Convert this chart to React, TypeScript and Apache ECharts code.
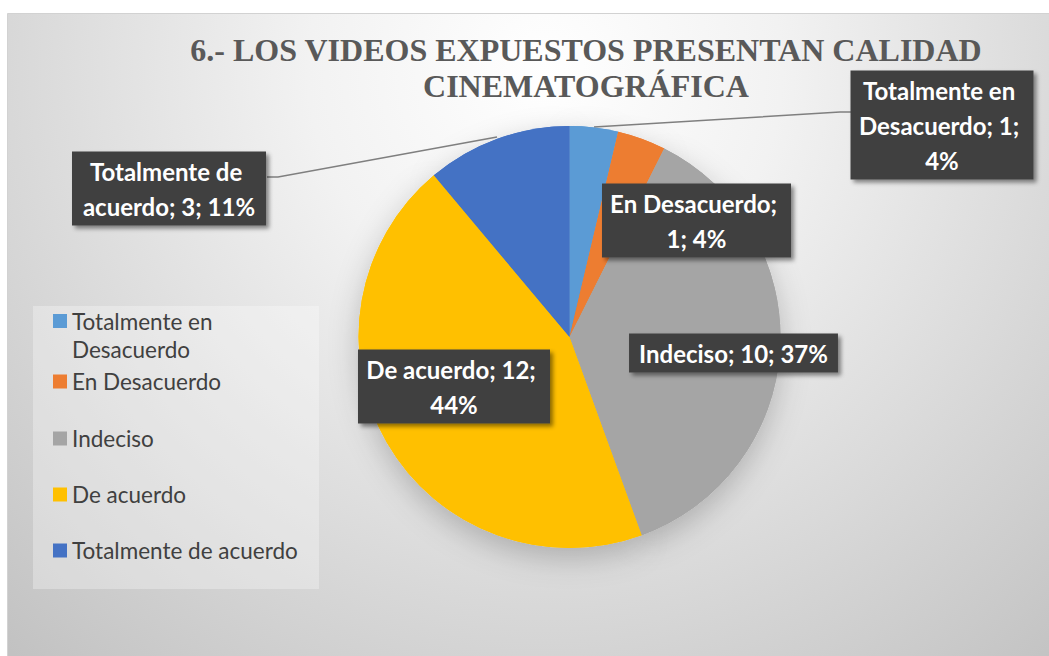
import React, { useEffect, useRef } from 'react';
import * as echarts from 'echarts';

const categories = [
  'Totalmente en Desacuerdo',
  'En Desacuerdo',
  'Indeciso',
  'De acuerdo',
  'Totalmente de acuerdo',
];
const counts = [1, 1, 10, 12, 3];
const colors = ['#5B9BD5', '#ED7D31', '#A5A5A5', '#FFC000', '#4472C4'];
const titleText = '6.- LOS VIDEOS EXPUESTOS PRESENTAN CALIDAD\nCINEMATOGRÁFICA';

export default function App() {
  const ref = useRef<HTMLDivElement>(null);
  useEffect(() => {
    document.body.style.margin = '0';
    const chart = echarts.init(ref.current!, null, { renderer: 'svg' });

    const labelCenters: number[][] = [
      [942, 125],
      [696.5, 220.5],
      [733.5, 353],
      [454, 386.5],
      [169, 188.5],
    ];
    const labelWidths: (number | null)[] = [171, 177, null, 180, 182];
    const linePoints: Record<number, number[][]> = {
      0: [[594, 127], [840, 112], [851, 112]],
      4: [[497, 137], [278, 177], [267, 177]],
    };
    const legendIconCenters = [321, 377, 434, 490, 546];

    const data = categories.map((name, i) => ({
      name,
      value: counts[i],
      itemStyle: { color: colors[i] },
      label: labelWidths[i] ? { width: labelWidths[i] } : { padding: [2, 10] },
      labelLine: { show: i === 0 || i === 4 },
    }));

    const legends = categories.map((name, i) => {
      const first = i === 0;
      return {
        data: [name],
        orient: 'vertical',
        left: 53,
        top: first ? legendIconCenters[i] - 7 - 35 : legendIconCenters[i] - 7,
        padding: 0,
        itemWidth: 14,
        itemHeight: 14,
        icon: 'rect',
        selectedMode: false,
        formatter: first ? (n: string) => '\n' + n : undefined,
        textStyle: first
          ? {
              fontFamily: 'Lato',
              fontSize: 22.5,
              color: '#404040',
              width: 205,
              overflow: 'break',
              lineHeight: 28,
            }
          : { fontFamily: 'Lato', fontSize: 22.5, color: '#404040' },
      };
    });

    chart.setOption({
      animation: false,
      backgroundColor: '#ffffff',
      title: {
        text: titleText,
        left: 586,
        top: 32,
        padding: 0,
        textAlign: 'center',
        textStyle: {
          fontFamily: 'Liberation Serif',
          fontWeight: 'bold',
          fontSize: 32,
          lineHeight: 36,
          color: '#595959',
        },
      },
      graphic: {
        elements: [
          {
            type: 'rect',
            silent: true,
            shape: { x: 7.5, y: 13.5, width: 1045, height: 650 },
            style: {
              fill: new echarts.graphic.RadialGradient(
                545,
                70,
                790,
                [
                  { offset: 0, color: '#ffffff' },
                  { offset: 0.3, color: '#f2f2f2' },
                  { offset: 1, color: '#c2c2c2' },
                ],
                true
              ),
              stroke: '#d2d2d2',
              lineWidth: 1,
            },
          },
          {
            type: 'rect',
            silent: true,
            shape: { x: 33, y: 306, width: 286, height: 283 },
            style: { fill: 'rgba(255,255,255,0.3)' },
          },
        ],
      },
      legend: legends,
      series: [
        {
          type: 'pie',
          name: 'main',
          z: 3,
          center: [569.5, 337],
          radius: 211,
          startAngle: 90,
          clockwise: true,
          percentPrecision: 0,
          avoidLabelOverlap: false,
          emphasis: { disabled: true },
          label: {
            show: true,
            position: 'outside',
            formatter: (p: any) => `${p.name}; ${p.value}; ${p.percent}%`,
            color: '#ffffff',
            fontFamily: 'Lato',
            fontWeight: 'bold',
            fontSize: 24,
            lineHeight: 35,
            backgroundColor: '#404040',
            padding: [2, 6],
            align: 'center',
            overflow: 'break',
            shadowBlur: 4,
            shadowColor: 'rgba(0,0,0,0.45)',
            shadowOffsetX: 3,
            shadowOffsetY: 3,
          },
          labelLine: {
            show: false,
            lineStyle: { color: '#7f7f7f', width: 1.5 },
          },
          labelLayout: (params: any) => {
            const i = params.dataIndex;
            const o: any = {
              x: labelCenters[i][0],
              y: labelCenters[i][1],
              align: 'center',
              verticalAlign: 'middle',
            };
            if (linePoints[i]) o.labelLinePoints = linePoints[i];
            return o;
          },
          data,
        },
        {
          type: 'pie',
          name: 'shadow',
          z: 1,
          silent: true,
          center: [569.5, 337],
          radius: 211,
          startAngle: 90,
          clockwise: true,
          emphasis: { disabled: true },
          label: { show: false },
          labelLine: { show: false },
          itemStyle: {
            shadowBlur: 30,
            shadowOffsetY: 10,
            shadowColor: 'rgba(0,0,0,0.22)',
          },
          data: categories.map((name, i) => ({
            name,
            value: counts[i],
            itemStyle: { color: colors[i] },
          })),
        },
      ],
    });
    return () => chart.dispose();
  }, []);
  return <div ref={ref} style={{ width: 1049, height: 656 }} />;
}
